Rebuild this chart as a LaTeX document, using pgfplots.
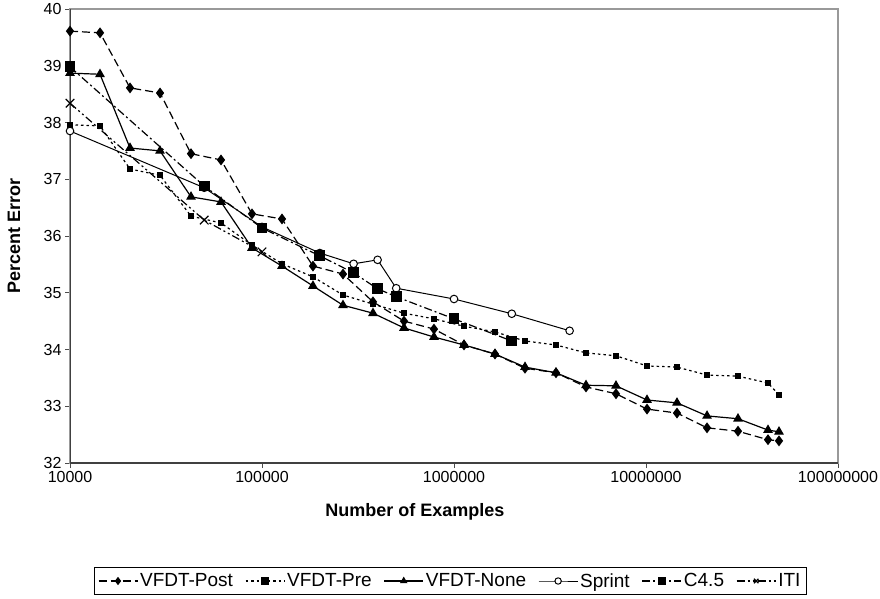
\documentclass[border=0pt]{standalone}
\usepackage{pgfplots}
\pgfplotsset{compat=1.18}
\usepackage{pgfplotstable}
\usepackage{fontspec}
\setmainfont{Liberation Sans}

% VFDT variants, all sampled at the same training-set sizes
\pgfplotstableread{
x         post   pre    none
10000     39.61  37.96  38.87
14330     39.58  37.94  38.85
20540     38.61  37.18  37.55
29430     38.52  37.07  37.50
42680     37.45  36.35  36.69
61170     37.34  36.23  36.60
88700     36.39  35.84  35.79
127100    36.30  35.51  35.47
184300    35.47  35.28  35.12
264100    35.33  34.96  34.78
378500    34.84  34.80  34.64
549000    34.50  34.64  34.38
786600    34.36  34.54  34.22
1127000   34.08  34.41  34.08
1635000   33.92  34.31  33.92
2343000   33.67  34.15  33.69
3398000   33.59  34.08  33.59
4870000   33.34  33.94  33.37
6978000   33.22  33.89  33.36
10120000  32.95  33.71  33.11
14500000  32.88  33.69  33.06
20790000  32.62  33.55  32.83
30140000  32.56  33.53  32.78
43190000  32.41  33.41  32.58
49280000  32.39  33.20  32.55
}\vfdt

\pgfplotstableread{
x        y
10000    37.85
50000    36.85
100000   36.16
200000   35.70
300000   35.51
400000   35.58
500000   35.08
1000000  34.89
2000000  34.63
4000000  34.33
}\sprint

\pgfplotstableread{
x        y
10000    38.98
50000    36.88
100000   36.14
200000   35.65
300000   35.35
400000   35.07
500000   34.93
1000000  34.54
2000000  34.15
}\cfourfive

\pgfplotstableread{
x        y
10000    38.34
50000    36.28
100000   35.72
}\iti

\begin{document}
\begin{tikzpicture}
\useasboundingbox (-70bp,-136bp) rectangle (810bp,463bp);
\begin{axis}[
  scale only axis,
  width=768bp, height=454bp,
  xmode=log, log basis x=10,
  xmin=10000, xmax=100000000,
  ymin=32, ymax=40,
  xtick={10000,100000,1000000,10000000,100000000},
  xticklabels={10000,100000,1000000,10000000,100000000},
  xminorticks=false, yminorticks=false,
  ytick={32,33,...,40},
  /pgf/number format/assume math mode=true,
  tick align=outside,
  tick pos=left,
  major tick length=5bp,
  tick style={black!70, line width=0.9bp},
  axis line style={black!40, line width=1.1bp},
  tick label style={font=\fontsize{16bp}{19bp}\selectfont},
  xlabel={Number of Examples},
  ylabel={Percent Error},
  xlabel style={font=\fontsize{18bp}{21bp}\selectfont\bfseries,
    at={(axis description cs:0.449,0)}, yshift=-49bp, anchor=center},
  ylabel style={font=\fontsize{18bp}{21bp}\selectfont\bfseries,
    at={(axis description cs:-0.073,0.5)}, anchor=center},
  legend columns=6,
  legend cell align=left,
  legend style={at={(axis description cs:0.495,0)}, yshift=-118bp,
    anchor=center, draw=black, line width=0.8bp,
    font=\fontsize{19bp}{22bp}\selectfont,
    inner xsep=4bp, inner ysep=4bp,
    /tikz/every even column/.append style={column sep=10bp}},
  legend image code/.code={%
    \draw[mark repeat=2,mark phase=2,#1,mark size=3.2bp]
      plot coordinates {(0bp,0bp) (19.5bp,0bp) (39bp,0bp)};},
]
\addplot[black, line width=1.2bp, dash pattern=on 8bp off 4bp,
  mark=diamond*, mark size=4.5bp, mark options={solid}]
  table[x=x, y=post] {\vfdt};
\addlegendentry{VFDT-Post}
\addplot[black, line width=1.2bp, dash pattern=on 2.5bp off 3bp,
  mark=square*, mark size=2.6bp, mark options={solid}]
  table[x=x, y=pre] {\vfdt};
\addlegendentry{VFDT-Pre}
\addplot[black, line width=1.2bp, solid,
  mark=triangle*, mark size=4.5bp]
  table[x=x, y=none] {\vfdt};
\addlegendentry{VFDT-None}
\addplot[black, line width=1bp, solid,
  mark=*, mark size=3.8bp, mark options={fill=white}]
  table[x=x, y=y] {\sprint};
\addlegendentry{Sprint}
\addplot[black, line width=1.2bp,
  dash pattern=on 8bp off 3bp on 2bp off 3bp,
  mark=square*, mark size=4.8bp, mark options={solid}]
  table[x=x, y=y] {\cfourfive};
\addlegendentry{C4.5}
\addplot[black, line width=1.2bp,
  dash pattern=on 8bp off 3bp on 2bp off 3bp on 2bp off 3bp,
  mark=x, mark size=6bp, mark options={solid}]
  table[x=x, y=y] {\iti};
\addlegendentry{ITI}
\draw[black!75, line width=1.6bp]
  (rel axis cs:0,1) -- (rel axis cs:0,0) -- (rel axis cs:1,0);
\end{axis}
\end{tikzpicture}
\end{document}
